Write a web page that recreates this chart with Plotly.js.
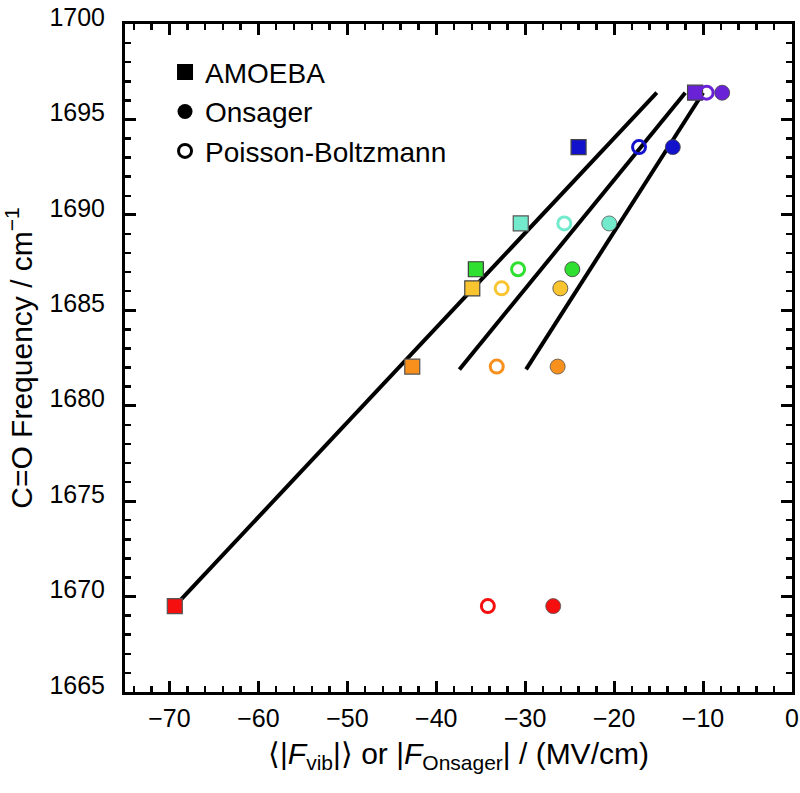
<!DOCTYPE html>
<html>
<head>
<meta charset="utf-8">
<script src="https://cdn.plot.ly/plotly-3.0.1.min.js"></script>
<style>html,body{margin:0;padding:0;background:#fff;}#chart{width:800px;height:793px;}</style>
</head>
<body>
<div id="chart"></div>
<script>
// Frequencies (cm^-1) for each solvent, top to bottom
const freq = [1696.4, 1693.55, 1689.55, 1687.15, 1686.15, 1682.05, 1669.5];
const colors = ["#6A22D6", "#1212CC", "#72EACB", "#30E030", "#F8C530", "#F8901E", "#F50F0F"];
const darkEdge = ["#444444", "#444444", "#555555", "#3a3a3a", "#444444", "#555555", "#555555"];

// Field values (MV/cm)
const amoebaX = [-10.9, -24.0, -30.5, -35.55, -35.95, -42.7, -69.4];
const pbX = [-9.6, -17.2, -25.6, -30.8, -32.65, -33.2, -34.2];
const onsagerX = [-7.85, -13.4, -20.55, -24.7, -26.05, -26.35, -26.85];

// Linear fit lines (endpoints)
const amoebaFitX = [-69.4, -15.2];
const amoebaFitY = [1669.5, 1696.4];
const pbFitX = [-37.4, -12.0];
const pbFitY = [1681.9, 1696.4];
const onsagerFitX = [-29.9, -10.0];
const onsagerFitY = [1681.9, 1696.4];

const legendNames = ["AMOEBA", "Onsager", "Poisson-Boltzmann"];
const xTickVals = [-70, -60, -50, -40, -30, -20, -10, 0];
const yTickVals = [1665, 1670, 1675, 1680, 1685, 1690, 1695, 1700];
const xMinorVals = [-74, -72, -70, -68, -66, -64, -62, -60, -58, -56, -54, -52, -50, -48, -46, -44, -42, -40,
  -38, -36, -34, -32, -30, -28, -26, -24, -22, -20, -18, -16, -14, -12, -10, -8, -6, -4, -2, 0];
const yMinorVals = [1665, 1666, 1667, 1668, 1669, 1670, 1671, 1672, 1673, 1674, 1675, 1676, 1677, 1678,
  1679, 1680, 1681, 1682, 1683, 1684, 1685, 1686, 1687, 1688, 1689, 1690, 1691, 1692, 1693, 1694, 1695,
  1696, 1697, 1698, 1699, 1700];

const fitLine = (x, y) => ({x: x, y: y, xaxis: 'x2', yaxis: 'y2', mode: 'lines', type: 'scatter',
  showlegend: false, hoverinfo: 'skip', line: {color: '#000', width: 4}});

const traces = [
  // legend entries (main axes)
  {x: [null], y: [null], mode: 'markers', type: 'scatter', name: legendNames[0],
   marker: {symbol: 'square', size: 17, color: '#000'}},
  {x: [null], y: [null], mode: 'markers', type: 'scatter', name: legendNames[1],
   marker: {symbol: 'circle', size: 15, color: '#000'}},
  {x: [null], y: [null], mode: 'markers', type: 'scatter', name: legendNames[2],
   marker: {symbol: 'circle-open', size: 13, color: '#000', line: {width: 3}}},
  // fit lines on overlay pair 2
  fitLine(amoebaFitX, amoebaFitY),
  fitLine(pbFitX, pbFitY),
  fitLine(onsagerFitX, onsagerFitY),
  // markers on overlay pair 3 (drawn above the lines)
  {x: amoebaX, y: freq, xaxis: 'x3', yaxis: 'y3', mode: 'markers', type: 'scatter', showlegend: false,
   marker: {symbol: 'square', size: 15, color: colors, line: {color: darkEdge, width: 1.2}}},
  {x: pbX, y: freq, xaxis: 'x3', yaxis: 'y3', mode: 'markers', type: 'scatter', showlegend: false,
   marker: {symbol: 'circle-open', size: 13, color: colors, line: {width: 3}}},
  {x: onsagerX, y: freq, xaxis: 'x3', yaxis: 'y3', mode: 'markers', type: 'scatter', showlegend: false,
   marker: {symbol: 'circle', size: 15, color: colors, line: {color: darkEdge, width: 0.8}}}
];

const fontFam = 'Liberation Sans, Arial, Helvetica, sans-serif';
const base = {ticks: 'inside', tickcolor: '#000', showgrid: false, zeroline: false};
const xMinor = {dtick: 2, tick0: 0, ticks: 'inside', ticklen: 6, tickwidth: 2.5, tickcolor: '#000', showgrid: false};
const yMinor = {dtick: 1, tick0: 1665, ticks: 'inside', ticklen: 6, tickwidth: 2.5, tickcolor: '#000', showgrid: false};

const layout = {
  width: 800, height: 793,
  margin: {l: 125, r: 8, t: 24, b: 101},
  paper_bgcolor: '#fff', plot_bgcolor: '#fff',
  font: {family: fontFam, color: '#000'},
  xaxis: Object.assign({}, base, {
    ticklen: 11, tickwidth: 3, showline: true, linecolor: '#000', linewidth: 3,
    range: [-75, 0], tickvals: xTickVals,
    ticktext: xTickVals.map(v => v < 0 ? '\u2212' + Math.abs(v) : String(v)),
    minor: xMinor,
    tickfont: {family: fontFam, size: 25, color: '#000'},
    ticklabelstandoff: 2,
    title: {text: '\u27E8|<i>F</i><sub>vib</sub>|\u27E9 or |<i>F</i><sub>Onsager</sub>| / (MV/cm)',
      font: {family: fontFam, size: 30, color: '#000'}, standoff: 12}
  }),
  yaxis: Object.assign({}, base, {
    ticklen: 11, tickwidth: 3, showline: true, linecolor: '#000', linewidth: 3,
    range: [1665, 1700], tickvals: yTickVals,
    minor: yMinor,
    tickfont: {family: fontFam, size: 25, color: '#000'},
    ticklabelstandoff: 12, ticklabelshift: -7,
    title: {text: 'C=O Frequency / cm<sup>\u22121</sup>',
      font: {family: fontFam, size: 30, color: '#000'}, standoff: 10}
  }),
  // top / right minor ticks
  xaxis2: Object.assign({}, base, {
    overlaying: 'x', anchor: 'y2', side: 'top', range: [-75, 0], tickvals: xMinorVals,
    ticklen: 6, tickwidth: 2.5, showticklabels: false, showline: true, linecolor: '#000', linewidth: 3
  }),
  yaxis2: Object.assign({}, base, {
    overlaying: 'y', anchor: 'x2', side: 'right', range: [1665, 1700], tickvals: yMinorVals,
    ticklen: 6, tickwidth: 2.5, showticklabels: false, showline: true, linecolor: '#000', linewidth: 3
  }),
  // top / right major ticks
  xaxis3: Object.assign({}, base, {
    overlaying: 'x', anchor: 'y3', side: 'top', range: [-75, 0], tickvals: xTickVals,
    ticklen: 11, tickwidth: 3, showticklabels: false, showline: false
  }),
  yaxis3: Object.assign({}, base, {
    overlaying: 'y', anchor: 'x3', side: 'right', range: [1665, 1700], tickvals: yTickVals,
    ticklen: 11, tickwidth: 3, showticklabels: false, showline: false
  }),
  legend: {x: 0.06, y: 0.965, xanchor: 'left', yanchor: 'top', bgcolor: 'rgba(0,0,0,0)',
    font: {family: fontFam, size: 28, color: '#000'}, itemsizing: 'trace', tracegroupgap: 0},
  showlegend: true
};

Plotly.newPlot('chart', traces, layout, {displayModeBar: false, staticPlot: true});
</script>
</body>
</html>
